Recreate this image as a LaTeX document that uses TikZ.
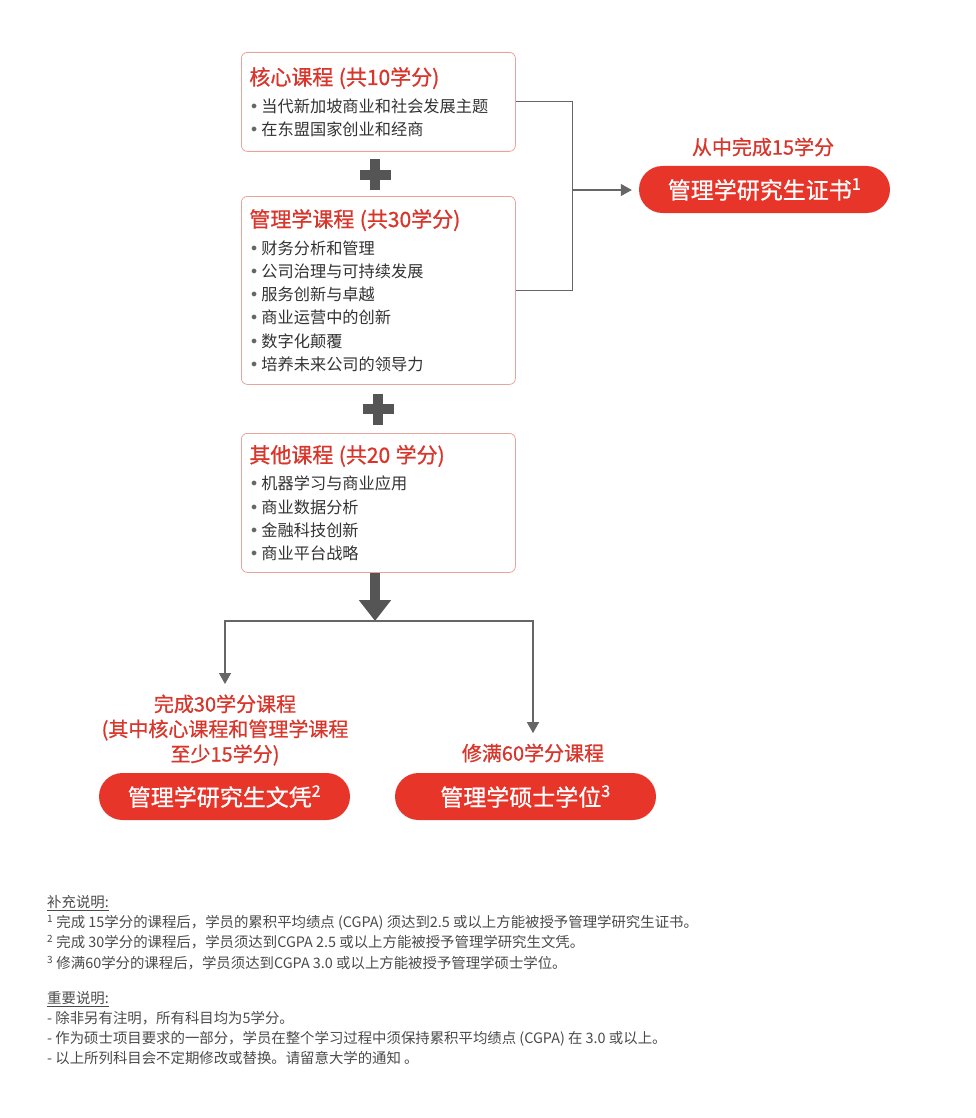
\documentclass[tikz,border=0pt]{standalone}
\usepackage{fontspec}
\setmainfont{Noto Sans CJK SC}
\newfontfamily\medfont{Noto Sans CJK SC}[FakeBold=0.8]
\newfontfamily\bulletfont{DejaVu Sans}
\usepackage{xcolor}
\usetikzlibrary{
    arrows.meta,
    calc,
    positioning
}

\definecolor{titlered}{HTML}{D9352B}
\definecolor{awardred}{HTML}{E8352A}
\definecolor{boxline}{HTML}{E8A39C}
\definecolor{bodytext}{HTML}{333333}
\definecolor{linkgrey}{HTML}{666666}
\definecolor{plusgrey}{HTML}{555555}
\definecolor{notegrey}{HTML}{4A4A4A}

\newcommand{\coursetitle}[1]{{\color{titlered}\medfont\fontsize{21}{24}\selectfont #1}}
\newcommand{\itm}{{\bulletfont\color{bodytext!75}•}\hspace{2.5pt}}

\tikzset{
    course/.style={draw=boxline, line width=0.8pt, rounded corners=6pt, fill=white, anchor=north west, minimum width=274pt, text width=258pt, inner xsep=8pt, align=left, text=bodytext, font=\fontsize{16.2}{23.2}\selectfont},
    award/.style={fill=awardred, rounded corners=23.5pt, minimum height=47pt, text=white, font=\medfont\fontsize{23}{26}\selectfont},
    cond/.style={text=titlered, align=center, font=\medfont\fontsize{20}{25}\selectfont},
    link/.style={draw=linkgrey, line width=1.2pt},
    linkarrow/.style={link, -{Triangle[width=12pt,length=11pt]}, shorten >=7pt},
    plusmark/.style={draw=plusgrey, line width=10.5pt},
    bigarrow/.style={draw=plusgrey, line width=10pt, -{Triangle[width=31pt,length=21pt]}}
}

\begin{document}
\begin{tikzpicture}[x=1pt, y=-1pt]
    \useasboundingbox (0,0) rectangle (976,1118);

    \node[course, minimum height=99pt] (core) at (241,52) {\coursetitle{核心课程 (共10学分)}\\[4pt]
        \itm 当代新加坡商业和社会发展主题\\
        \itm 在东盟国家创业和经商};
    \node[course, minimum height=188pt] (mgmt) at (241,196) {\coursetitle{管理学课程 (共30学分)}\\[4pt]
        \itm 财务分析和管理\\
        \itm 公司治理与可持续发展\\
        \itm 服务创新与卓越\\
        \itm 商业运营中的创新\\
        \itm 数字化颠覆\\
        \itm 培养未来公司的领导力};
    \node[course, minimum height=139pt] (other) at (241,433) {\coursetitle{其他课程 (共20 学分)}\\[4pt]
        \itm 机器学习与商业应用\\
        \itm 商业数据分析\\
        \itm 金融科技创新\\
        \itm 商业平台战略};

    \coordinate (plusA) at (375,175);
    \coordinate (plusB) at (378,409);
    \draw[plusmark] (plusA) ++(-15.5,0) -- ++(31,0) (plusA) ++(0,-15.5) -- ++(0,31);
    \draw[plusmark] (plusB) ++(-15.5,0) -- ++(31,0) (plusB) ++(0,-15.5) -- ++(0,31);

    \node[cond] (certcond) at (763,147) {从中完成15学分};
    \node[award, minimum width=251pt] (cert) at (764.5,189.5) {管理学研究生证书\textsuperscript{1}};

    \coordinate (join) at (572,190);
    \draw[link] (core.east) -- ++(57,0) |- (mgmt.east);
    \draw[linkarrow] (join) -- (join -| cert.west);

    \coordinate (split) at (375,621);
    \draw[bigarrow] (other.south -| split) -- (split);

    \node[cond] (dcond) at (225,730) {完成30学分课程\\(其中核心课程和管理学课程\\至少15学分)};
    \node[cond] (mcond) at (533,753) {修满60学分课程};
    \node[award, minimum width=251pt] (dipl) at (224.5,796.5) {管理学研究生文凭\textsuperscript{2}};
    \node[award, minimum width=261pt] (master) at (525.5,796.5) {管理学硕士学位\textsuperscript{3}};

    \draw[linkarrow] (split) -| (dcond.north);
    \draw[linkarrow] (split) -| (mcond.north);

    \node[anchor=north west, inner sep=0pt, align=left, text=notegrey, font=\fontsize{14.4}{20.3}\selectfont] (notes) at (47,895) {\underline{补充说明:}\\
        \textsuperscript{1} 完成 15学分的课程后，学员的累积平均绩点 (CGPA) 须达到2.5 或以上方能被授予管理学研究生证书。\\
        \textsuperscript{2} 完成 30学分的课程后，学员须达到CGPA 2.5 或以上方能被授予管理学研究生文凭。\\
        \textsuperscript{3} 修满60学分的课程后，学员须达到CGPA 3.0 或以上方能被授予管理学硕士学位。\\[14.5pt]
        \underline{重要说明:}\\
        - 除非另有注明，所有科目均为5学分。\\
        - 作为硕士项目要求的一部分，学员在整个学习过程中须保持累积平均绩点 (CGPA) 在 3.0 或以上。\\
        - 以上所列科目会不定期修改或替换。请留意大学的通知 。};
\end{tikzpicture}
\end{document}
